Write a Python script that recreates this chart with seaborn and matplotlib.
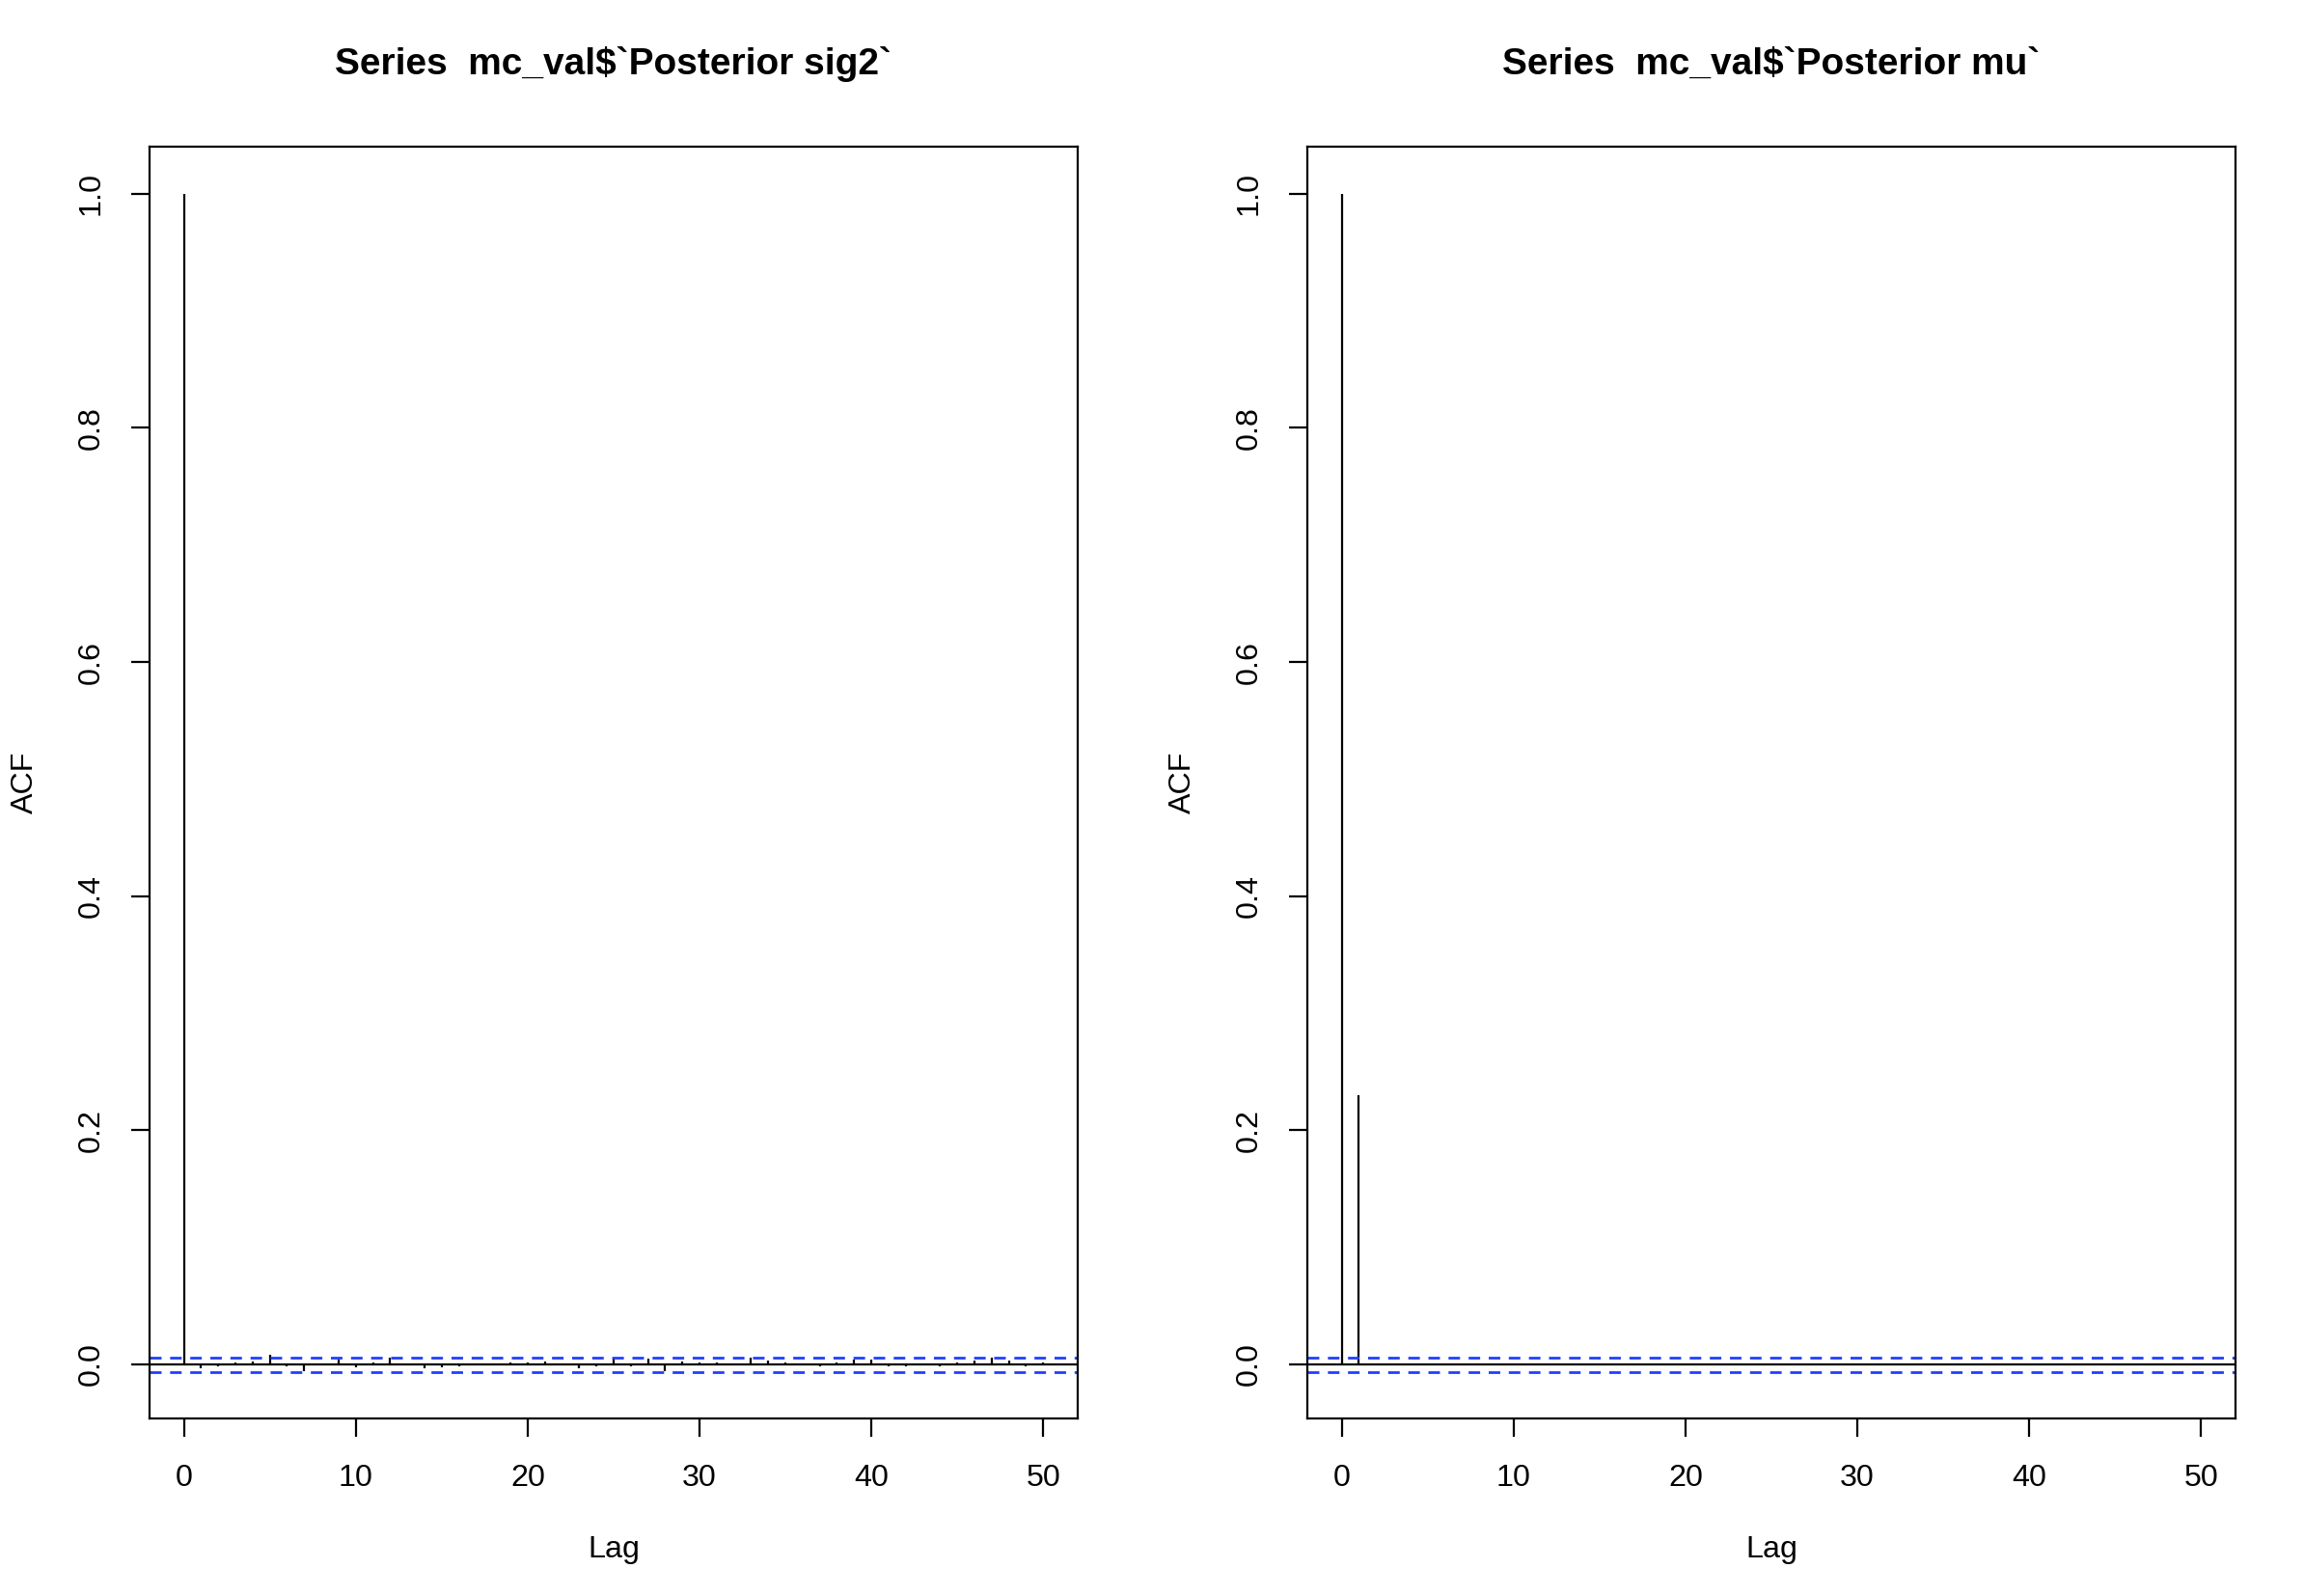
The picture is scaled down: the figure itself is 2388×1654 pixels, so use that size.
import matplotlib
matplotlib.use("Agg")
import matplotlib.pyplot as plt
import numpy as np
import seaborn as sns

# ACF values (lags 0..50)
LAGS = list(range(51))
ACF_SIG2 = [1.0, -0.0036, -0.002, 0.0014, 0.0028, 0.0083, -0.0015, -0.006, 0.0012, 0.004,
            -0.0028, 0.002, 0.006, -0.001, -0.003, -0.0025, -0.0016, 0.0003, 0.0008, 0.002,
            0.002, 0.0025, -0.001, -0.0036, -0.0014, 0.0055, -0.002, 0.005, -0.006, 0.0028,
            0.0014, 0.002, 0.0008, 0.006, 0.003, 0.002, -0.0005, -0.0014, 0.002, 0.004,
            0.004, -0.002, -0.0014, -0.001, -0.0016, 0.002, 0.003, 0.0055, 0.0035, -0.0016,
            0.002]
ACF_MU = [1.0, 0.230, 0.0008, -0.0006, 0.0007, 0.0005, 0.0009, -0.0005, 0.0006, 0.0004,
          0.0006, -0.0004, 0.0005, 0.0003, -0.0005, 0.0004, 0.0006, -0.0003, 0.0005, 0.0004,
          -0.0004, 0.0006, 0.0003, -0.0005, 0.0004, 0.0005, -0.0003, 0.0004, 0.0006, -0.0004,
          0.0005, 0.0003, 0.0006, -0.0004, 0.0005, 0.0004, -0.0003, 0.0005, 0.0004, -0.0005,
          0.0006, 0.0003, 0.0004, -0.0004, 0.0005, 0.0006, -0.0003, 0.0004, 0.0005, -0.0004,
          0.0003]
CI = 0.0062
TITLES = ["Series  mc_val$`Posterior sig2`", "Series  mc_val$`Posterior mu`"]

sns.set_style("white")
plt.rcParams["font.family"] = ["Liberation Sans", "DejaVu Sans"]
plt.rcParams["text.color"] = "black"
plt.rcParams["axes.labelcolor"] = "black"

fig = plt.figure(figsize=(11.94, 8.27), dpi=200)
fig.patch.set_facecolor("white")
ax_l = fig.add_axes([0.0649, 0.1112, 0.4028, 0.7969])
ax_r = fig.add_axes([0.5674, 0.1112, 0.4028, 0.7969])

for ax, acf, title in zip([ax_l, ax_r], [ACF_SIG2, ACF_MU], TITLES):
    ax.vlines(LAGS, 0, acf, color="black", linewidth=0.8)
    ax.axhline(0, color="black", linewidth=0.8)
    for c in (CI, -CI):
        ax.axhline(c, color="#1f3fff", linewidth=1.0, linestyle=(0, (4.3, 3.2)))
    ax.set_xlim(-2, 52)
    ax.set_ylim(-0.0462, 1.0402)
    ax.set_xticks([0, 10, 20, 30, 40, 50])
    ax.set_yticks([0.0, 0.2, 0.4, 0.6, 0.8, 1.0])
    ax.set_yticklabels(["0.0", "0.2", "0.4", "0.6", "0.8", "1.0"], rotation=90, va="center")
    ax.tick_params(axis="both", direction="out", length=6.8, width=0.8, colors="black",
                   labelcolor="black", labelsize=11.6, left=True, bottom=True)
    ax.tick_params(axis="x", pad=10)
    ax.tick_params(axis="y", pad=9.4)
    for spine in ax.spines.values():
        spine.set_visible(True)
        spine.set_edgecolor("black")
        spine.set_linewidth(0.8)
    ax.set_xlabel("Lag", fontsize=11.6, labelpad=16, color="black")
    ax.set_ylabel("ACF", fontsize=11.6, labelpad=14, color="black")
    ax.set_title(title, fontsize=14, fontweight="bold", pad=27, color="black")

fig.savefig("out.png", dpi=200, facecolor="white")
